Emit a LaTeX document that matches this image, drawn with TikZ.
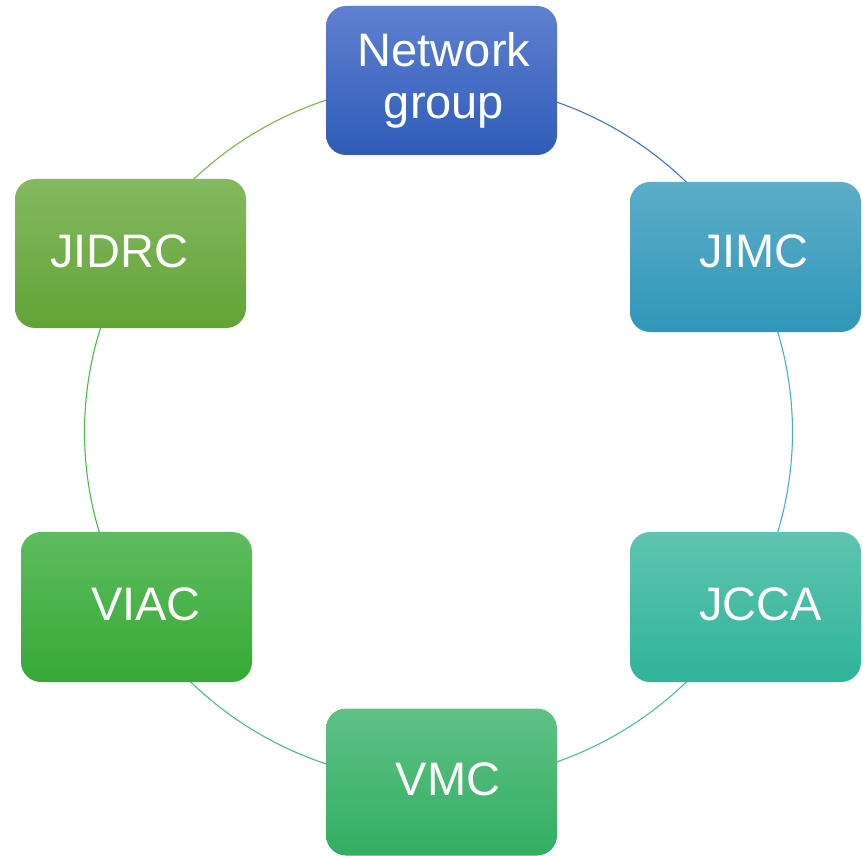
\documentclass[tikz,border=0pt]{standalone}
\usepackage{fontspec}
\setmainfont{Liberation Sans}
\usetikzlibrary{calc}
\definecolor{cNetT}{RGB}{95,128,208}
\definecolor{cNetB}{RGB}{46,92,184}
\definecolor{cJimT}{RGB}{92,173,200}
\definecolor{cJimB}{RGB}{48,151,185}
\definecolor{cJccT}{RGB}{94,196,176}
\definecolor{cJccB}{RGB}{48,180,154}
\definecolor{cVmcT}{RGB}{94,193,134}
\definecolor{cVmcB}{RGB}{50,174,98}
\definecolor{cViaT}{RGB}{94,188,94}
\definecolor{cViaB}{RGB}{54,169,54}
\definecolor{cJidT}{RGB}{132,185,96}
\definecolor{cJidB}{RGB}{98,163,54}
\definecolor{lNet}{RGB}{68,114,196}
\definecolor{lJim}{RGB}{75,172,198}
\definecolor{lJcc}{RGB}{70,191,168}
\definecolor{lVmc}{RGB}{76,191,122}
\definecolor{lVia}{RGB}{76,187,76}
\definecolor{lJid}{RGB}{122,182,72}
\begin{document}
\begin{tikzpicture}[x=1pt,y=1pt,
  orgbox/.style={rectangle, rounded corners=20pt, minimum width=231pt, minimum height=149pt,
    inner sep=0pt, text=white, font=\fontsize{47}{54}\selectfont, align=center},
  ring/.style={line width=1.1pt},
  rad/.style={x radius=354pt, y radius=350pt}]
\useasboundingbox (0,0) rectangle (863,-856);
\coordinate (O) at (438.5,-432);
% ring coordinates on the ellipse at each box
\coordinate (r1) at ($(O)+(90:354 and 350)$);
\coordinate (r2) at ($(O)+(30:354 and 350)$);
\coordinate (r3) at ($(O)+(-30:354 and 350)$);
\coordinate (r4) at ($(O)+(-90:354 and 350)$);
\coordinate (r5) at ($(O)+(-150:354 and 350)$);
\coordinate (r6) at ($(O)+(150:354 and 350)$);
% arcs
\draw[ring, lNet] (r1) arc[start angle=90, end angle=30, rad];
\draw[ring, lJim] (r2) arc[start angle=30, end angle=-30, rad];
\draw[ring, lJcc] (r3) arc[start angle=-30, end angle=-90, rad];
\draw[ring, lVmc] (r4) arc[start angle=-90, end angle=-150, rad];
\draw[ring, lVia] (r5) arc[start angle=210, end angle=150, rad];
\draw[ring, lJid] (r6) arc[start angle=150, end angle=90, rad];
% boxes
\node[orgbox, top color=cNetT, bottom color=cNetB] (net) at (441.5,-80.5)
  {\raisebox{-2pt}{\hspace*{5pt}Network}\\\hspace*{5pt}group};
\node[orgbox, top color=cJimT, bottom color=cJimB, minimum height=150pt] (jimc) at (745.5,-257)
  {\raisebox{11pt}{\hspace*{17pt}JIMC}};
\node[orgbox, top color=cJccT, bottom color=cJccB, minimum height=150pt] (jcca) at (745.5,-607)
  {\raisebox{5pt}{\hspace*{30pt}JCCA}};
\node[orgbox, top color=cVmcT, bottom color=cVmcB, minimum height=147pt] (vmc) at (441.5,-782)
  {\raisebox{5pt}{\hspace*{13pt}VMC}};
\node[orgbox, top color=cViaT, bottom color=cViaB, minimum height=150pt] (viac) at (136.5,-607)
  {\raisebox{5pt}{\hspace*{19pt}VIAC}};
\node[orgbox, top color=cJidT, bottom color=cJidB] (jidrc) at (130.5,-253.5)
  {\raisebox{4pt}{JIDRC\hspace*{22pt}}};
\end{tikzpicture}
\end{document}
